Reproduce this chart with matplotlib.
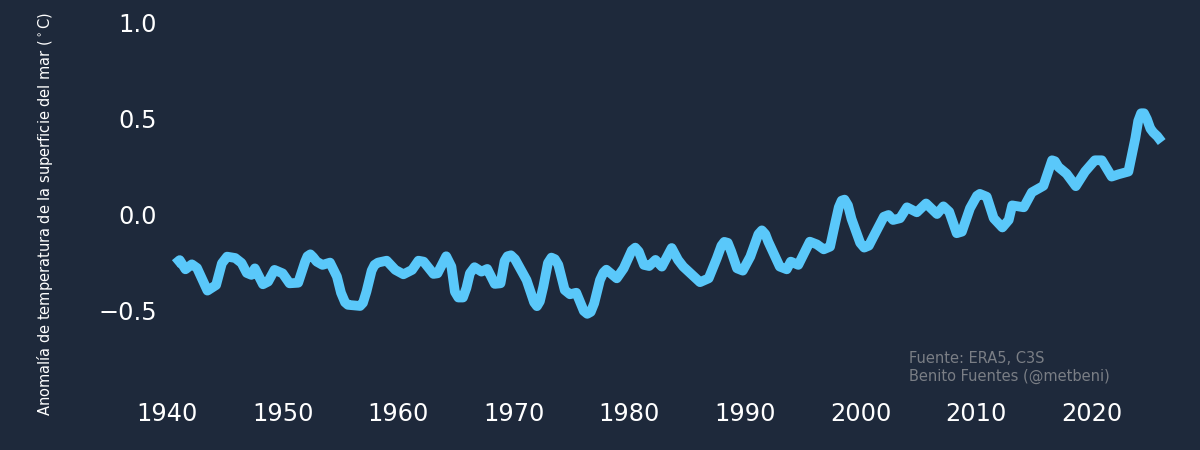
import matplotlib
matplotlib.use('Agg')
import matplotlib.pyplot as plt

# anomalia
years = [1940.7, 1941.1, 1941.6, 1942.15, 1942.6, 1943.5, 1944.25, 1944.75, 1945.2, 1945.9,
         1946.45, 1946.9, 1947.3, 1947.6, 1948.3, 1948.75, 1949.3, 1950.0, 1950.6, 1951.35,
         1951.95, 1952.15, 1952.4, 1952.65, 1952.95, 1953.45, 1954.1, 1954.7, 1955.05, 1955.4,
         1955.65, 1956.7, 1956.95, 1957.25, 1957.7, 1957.95, 1958.25, 1959.0, 1959.75, 1960.45,
         1961.2, 1961.75, 1962.2, 1963.05, 1963.4, 1964.15, 1964.6, 1964.9, 1965.2, 1965.6,
         1965.9, 1966.2, 1966.6, 1967.2, 1967.7, 1968.35, 1968.85, 1969.2, 1969.45, 1969.75,
         1970.1, 1971.1, 1971.75, 1972.0, 1972.25, 1972.55, 1972.95, 1973.25, 1973.55, 1973.85,
         1974.4, 1974.85, 1975.4, 1976.05, 1976.35, 1976.65, 1976.95, 1977.45, 1977.75, 1978.0,
         1978.9, 1979.5, 1980.2, 1980.5, 1980.8, 1981.25, 1981.7, 1982.25, 1982.8, 1983.65,
         1984.2, 1984.65, 1986.1, 1986.85, 1987.55, 1987.95, 1988.2, 1988.5, 1988.8, 1989.3,
         1989.8, 1990.45, 1991.15, 1991.45, 1991.75, 1992.0, 1993.0, 1993.6, 1993.95, 1994.6,
         1995.6, 1996.2, 1996.8, 1997.35, 1997.8, 1998.1, 1998.35, 1998.6, 1998.9, 1999.2,
         1999.95, 2000.3, 2000.7, 2001.1, 2002.0, 2002.4, 2002.8, 2003.4, 2004.0, 2004.85,
         2005.65, 2006.6, 2007.15, 2007.65, 2008.3, 2008.75, 2009.45, 2010.05, 2010.3, 2010.9,
         2011.5, 2012.25, 2012.8, 2013.1, 2014.1, 2014.8, 2015.8, 2016.3, 2016.55, 2016.8,
         2017.1, 2017.8, 2018.6, 2019.4, 2020.25, 2020.85, 2021.7, 2022.3, 2023.15, 2023.75,
         2024.0, 2024.25, 2024.5, 2024.75, 2025.05, 2025.3, 2025.65, 2026.03]
anomaly = [-0.26, -0.24, -0.288, -0.262, -0.281, -0.399, -0.37, -0.257, -0.222, -0.229,
           -0.255, -0.307, -0.317, -0.283, -0.366, -0.352, -0.291, -0.309, -0.361, -0.358,
           -0.248, -0.22, -0.21, -0.225, -0.248, -0.265, -0.253, -0.326, -0.41, -0.46,
           -0.473, -0.479, -0.463, -0.405, -0.295, -0.265, -0.253, -0.243, -0.291, -0.314,
           -0.291, -0.243, -0.248, -0.312, -0.309, -0.22, -0.274, -0.405, -0.435, -0.435,
           -0.385, -0.309, -0.277, -0.3, -0.286, -0.364, -0.361, -0.245, -0.22, -0.215,
           -0.235, -0.344, -0.46, -0.48, -0.455, -0.378, -0.255, -0.227, -0.235, -0.265,
           -0.396, -0.418, -0.41, -0.505, -0.52, -0.51, -0.465, -0.344, -0.305, -0.29,
           -0.335, -0.283, -0.19, -0.175, -0.195, -0.265, -0.271, -0.239, -0.274, -0.177,
           -0.239, -0.274, -0.355, -0.335, -0.231, -0.165, -0.145, -0.15, -0.195, -0.283,
           -0.295, -0.222, -0.105, -0.085, -0.105, -0.144, -0.274, -0.288, -0.248, -0.265,
           -0.144, -0.158, -0.184, -0.17, -0.045, 0.035, 0.07, 0.075, 0.045, -0.025,
           -0.15, -0.175, -0.165, -0.118, -0.014, -0.005, -0.031, -0.022, 0.035, 0.009,
           0.055, 0.0, 0.04, 0.012, -0.1, -0.092, 0.03, 0.095, 0.105, 0.09,
           -0.022, -0.07, -0.031, 0.045, 0.035, 0.113, 0.147, 0.235, 0.28, 0.275,
           0.245, 0.21, 0.145, 0.221, 0.28, 0.28, 0.195, 0.207, 0.221, 0.395,
           0.485, 0.525, 0.525, 0.495, 0.445, 0.425, 0.405, 0.375]

xticks = [1940, 1950, 1960, 1970, 1980, 1990, 2000, 2010, 2020]
yticks = [-0.5, 0.0, 0.5, 1.0]

bg = '#1e293b'
line_color = '#5ac8fa'

fig = plt.figure(figsize=(12, 4.5), dpi=100, facecolor=bg)
ax = fig.add_axes([165 / 1200, 56 / 450, 1010 / 1200, 385 / 450], facecolor=bg)
ax.plot(years, anomaly, color=line_color, linewidth=7, solid_capstyle='butt', solid_joinstyle='round')

ax.set_xlim(1939.83, 2027.18)
ax.set_ylim(-0.9375, 1.068)
ax.set_xticks(xticks)
ax.set_yticks(yticks)
ax.tick_params(axis='both', length=0, labelsize=17.3, labelcolor='white')
ax.tick_params(axis='x', pad=6)
ax.tick_params(axis='y', pad=6)
for spine in ax.spines.values():
    spine.set_visible(False)

fig.text(45 / 1200, 1 - 214.5 / 450, r'Anomalía de temperatura de la superficie del mar ($^\circ$C)',
         color='white', fontsize=10.5, rotation=90, ha='center', va='center')
fig.text(909 / 1200, 1 - 367.5 / 450, 'Fuente: ERA5, C3S\nBenito Fuentes (@metbeni)',
         color='#7a7e85', fontsize=10.5, ha='left', va='center', linespacing=1.2)

fig.savefig('out.png', dpi=100, facecolor=bg)
